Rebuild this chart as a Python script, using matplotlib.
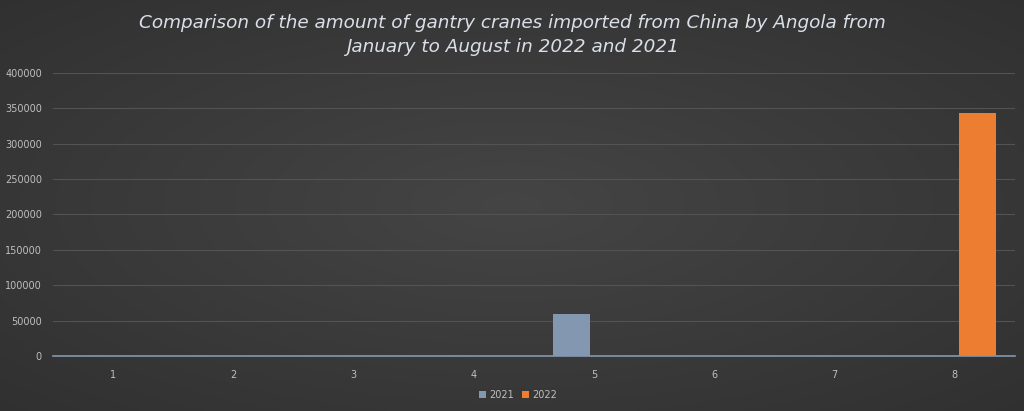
import numpy as np
import matplotlib
matplotlib.use('Agg')
import matplotlib.pyplot as plt

# datos
months = ['1', '2', '3', '4', '5', '6', '7', '8']
v2021 = [0, 0, 0, 0, 59000, 0, 0, 0]
v2022 = [0, 0, 0, 0, 0, 0, 0, 343000]
yticks = [0, 50000, 100000, 150000, 200000, 250000, 300000, 350000, 400000]

C21 = '#8497b0'
C22 = '#ed7d31'
TXT = '#bfbfbf'

fig = plt.figure(figsize=(10.24, 4.11), dpi=100)

# fondo con degradado radial (mas claro al centro)
bg = fig.add_axes([0, 0, 1, 1], zorder=-10)
yy, xx = np.mgrid[-1:1:300j, -1:1:700j]
r = np.sqrt(xx ** 2 + yy ** 2) / np.sqrt(2)
shade = 0.27 - 0.08 * r
bg.imshow(np.dstack([shade, shade, shade]), aspect='auto', extent=[0, 1, 0, 1])
bg.axis('off')

ax = fig.add_axes([53 / 1024, 1 - 356 / 411, 962 / 1024, 283 / 411])
ax.patch.set_alpha(0)

x = np.arange(len(months))
w = 0.305
off = 0.19
ax.bar(x - off, v2021, w, color=C21, label='2021', zorder=3)
ax.bar(x + off, v2022, w, color=C22, label='2022', zorder=3)

ax.set_xlim(-0.5, len(months) - 0.5)
ax.set_ylim(0, 400000)
ax.set_yticks(yticks)
ax.set_yticklabels([str(t) for t in yticks])
ax.set_xticks(x)
ax.set_xticklabels(months)
ax.tick_params(axis='both', length=0, colors=TXT, labelsize=7)
ax.tick_params(axis='y', pad=8)
ax.tick_params(axis='x', pad=10)
ax.grid(axis='y', color='#535353', lw=0.8, zorder=0)
for s in ['top', 'right', 'left']:
    ax.spines[s].set_visible(False)
ax.spines['bottom'].set_color(C21)
ax.spines['bottom'].set_linewidth(1.2)
ax.spines['bottom'].set_zorder(4)

leg = fig.legend(loc='center', bbox_to_anchor=(0.506, 1 - 395 / 411), ncol=2,
                 frameon=False, fontsize=7, handlelength=0.7, handleheight=0.7,
                 columnspacing=0.8, handletextpad=0.4)
for t in leg.get_texts():
    t.set_color(TXT)

fig.text(0.5, 1 - 35 / 411,
         'Comparison of the amount of gantry cranes imported from China by Angola from\n'
         'January to August in 2022 and 2021',
         ha='center', va='center', fontsize=13.2, style='italic', color='#dadfe8',
         family='DejaVu Sans', linespacing=1.5)

fig.savefig('out.png', dpi=100)
